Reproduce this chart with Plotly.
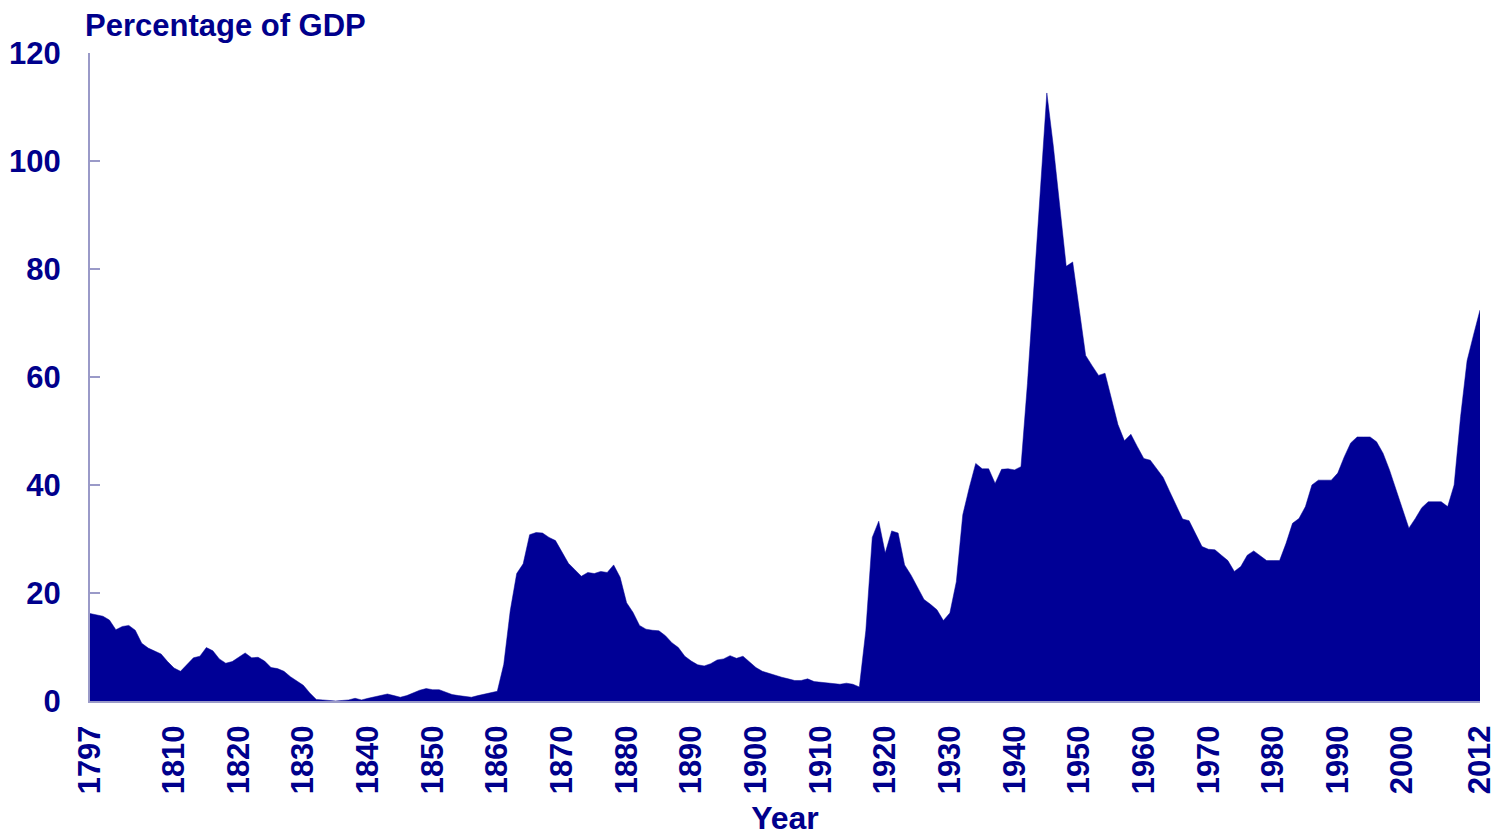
import plotly.graph_objects as go

years = list(range(1797, 2013))

debt_pct_gdp = [
    # 1797-1806
    16.2, 15.9, 15.7, 15.0, 13.2, 13.8, 14.0, 13.1, 10.7, 9.8,
    # 1807-1816
    9.3, 8.7, 7.3, 6.1, 5.5, 6.7, 8.0, 8.3, 9.9, 9.3,
    # 1817-1826
    7.8, 7.0, 7.3, 8.1, 8.9, 8.0, 8.1, 7.4, 6.2, 6.0,
    # 1827-1836
    5.5, 4.5, 3.7, 2.9, 1.5, 0.3, 0.2, 0.1, 0.0, 0.1,
    # 1837-1846
    0.2, 0.5, 0.2, 0.5, 0.8, 1.1, 1.3, 1.0, 0.7, 1.0,
    # 1847-1856
    1.5, 2.0, 2.3, 2.1, 2.1, 1.7, 1.2, 1.0, 0.8, 0.7,
    # 1857-1866
    1.0, 1.3, 1.6, 1.8, 6.8, 16.7, 23.6, 25.4, 30.8, 31.2,
    # 1867-1876
    31.1, 30.3, 29.7, 27.6, 25.5, 24.3, 23.1, 23.8, 23.6, 24.0,
    # 1877-1886
    23.8, 25.2, 22.9, 18.2, 16.4, 14.0, 13.3, 13.1, 13.0, 12.1,
    # 1887-1896
    10.8, 9.9, 8.3, 7.4, 6.7, 6.5, 6.9, 7.6, 7.8, 8.4,
    # 1897-1906
    7.9, 8.3, 7.2, 6.2, 5.5, 5.1, 4.8, 4.4, 4.1, 3.8,
    # 1907-1916
    3.8, 4.1, 3.6, 3.5, 3.4, 3.3, 3.1, 3.3, 3.1, 2.6,
    # 1917-1926
    13.0, 30.3, 33.3, 27.4, 31.5, 31.1, 25.2, 23.3, 21.1, 18.8,
    # 1927-1936
    17.9, 16.9, 14.9, 16.3, 22.1, 34.5, 39.5, 44.0, 43.0, 43.0,
    # 1937-1946
    40.3, 42.9, 43.0, 42.8, 43.4, 58.8, 76.7, 93.9, 112.6, 102.8,
    # 1947-1956
    91.7, 80.5, 81.3, 72.6, 64.0, 62.1, 60.3, 60.7, 55.7, 51.2,
    # 1957-1966
    48.2, 49.4, 47.1, 44.9, 44.6, 43.0, 41.4, 38.8, 36.3, 33.7,
    # 1967-1976
    33.4, 31.0, 28.6, 28.1, 28.0, 27.0, 26.0, 24.0, 24.9, 27.0,
    # 1977-1986
    27.8, 26.9, 26.0, 26.0, 26.0, 29.2, 32.9, 33.8, 36.0, 40.0,
    # 1987-1996
    40.9, 40.9, 40.9, 42.2, 45.2, 47.8, 48.9, 48.9, 48.9, 48.0,
    # 1997-2006
    45.9, 42.8, 39.1, 35.4, 32.0, 33.8, 35.8, 36.9, 36.9, 36.9,
    # 2007-2012
    36.0, 40.0, 52.7, 63.0, 67.8, 72.4,
]

x_tick_years = [1797, 1810, 1820, 1830, 1840, 1850, 1860, 1870, 1880, 1890,
                1900, 1910, 1920, 1930, 1940, 1950, 1960, 1970, 1980, 1990,
                2000, 2012]
y_ticks = [0, 20, 40, 60, 80, 100, 120]

FILL = "#000096"
TEXT = "#00008c"
AXIS = "#9a9ac8"
FONT = "Liberation Sans, Arial, sans-serif"

FIG_W, FIG_H = 1491, 828

fig = go.Figure()
fig.add_trace(go.Scatter(
    x=years, y=debt_pct_gdp,
    mode="lines",
    fill="tozeroy",
    fillcolor=FILL,
    line=dict(color=FILL, width=0.5),
    hoverinfo="x+y",
    showlegend=False,
))

fig.update_layout(
    width=FIG_W, height=FIG_H,
    paper_bgcolor="white",
    plot_bgcolor="rgba(0,0,0,0)",
    margin=dict(l=82, r=19, t=45, b=135, autoexpand=False),
    font=dict(family=FONT, color=TEXT, size=31, weight="bold"),
    title=dict(
        text="Percentage of GDP",
        xref="container", yref="container",
        x=77 / FIG_W, y=1 - 17 / FIG_H,
        xanchor="left", yanchor="middle",
        font=dict(family=FONT, size=31, color=TEXT, weight="bold"),
    ),
)

fig.update_xaxes(
    range=[1797, 2012],
    automargin=False,
    tickmode="array", tickvals=x_tick_years,
    ticktext=[str(v) for v in x_tick_years],
    tickangle=-90,
    tickfont=dict(family=FONT, size=31, color=TEXT, weight="bold"),
    showline=True, linecolor=AXIS, linewidth=2,
    ticks="", showgrid=False, zeroline=False,
    ticklabelstandoff=10,
    title=dict(text="Year", standoff=17,
               font=dict(family=FONT, size=32, color=TEXT, weight="bold")),
)

fig.update_yaxes(
    range=[0, 120],
    automargin=False,
    tickmode="array", tickvals=y_ticks,
    tickfont=dict(family=FONT, size=31, color=TEXT, weight="bold"),
    showline=True, linecolor=AXIS, linewidth=2,
    ticks="inside", ticklen=10, tickcolor=AXIS, tickwidth=2,
    showgrid=False, zeroline=False,
    ticklabelstandoff=21,
)

fig.write_html("out.html")
